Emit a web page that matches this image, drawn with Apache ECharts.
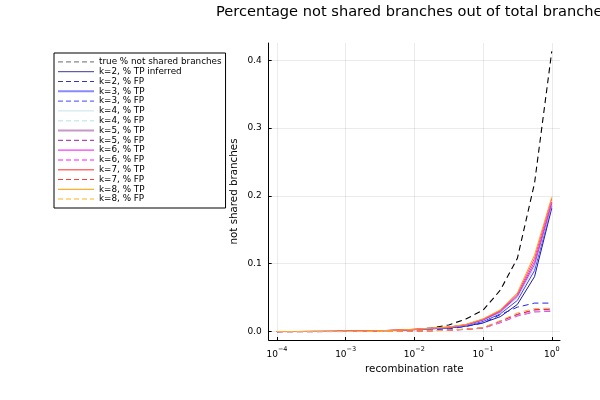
<!DOCTYPE html>
<html>
<head>
<meta charset="utf-8">
<script src="https://cdn.jsdelivr.net/npm/echarts@6/dist/echarts.min.js"></script>
<style>html,body{margin:0;padding:0;background:#fff}#c{width:600px;height:400px}</style>
</head>
<body>
<div id="c"></div>
<script>
const rates = [0.0001,0.000178,0.000316,0.000562,0.001,0.00178,0.00316,0.00562,0.01,0.0178,0.0316,0.0562,0.1,0.178,0.316,0.562,1.0];
const xTicks = [-4,-3,-2,-1,0];
const yTicks = [0,0.1,0.2,0.3,0.4];

const trueNS = [0.0000,0.0001,0.0001,0.0002,0.0003,0.0005,0.0009,0.0017,0.0030,0.0054,0.0098,0.0185,0.0315,0.0610,0.1080,0.2190,0.4130];

const tpK2 = [0.0001,0.0001,0.0002,0.0003,0.0004,0.0007,0.0011,0.0018,0.0028,0.0040,0.0052,0.0080,0.0128,0.0220,0.0400,0.0810,0.1820];
const fpK2 = [0.0000,0.0000,0.0001,0.0001,0.0002,0.0003,0.0005,0.0008,0.0013,0.0022,0.0040,0.0075,0.0125,0.0250,0.0360,0.0420,0.0420];
const tpK3 = [0.0001,0.0001,0.0002,0.0003,0.0005,0.0008,0.0012,0.0019,0.0030,0.0044,0.0058,0.0089,0.0150,0.0260,0.0460,0.0900,0.1850];
const fpK3 = [0.0000,0.0000,0.0000,0.0001,0.0001,0.0002,0.0003,0.0005,0.0008,0.0013,0.0022,0.0035,0.0055,0.0150,0.0250,0.0320,0.0330];
const tpK4 = [0.0001,0.0001,0.0002,0.0003,0.0005,0.0008,0.0012,0.0020,0.0031,0.0046,0.0061,0.0094,0.0164,0.0280,0.0500,0.0950,0.1870];
const fpK4 = [0.0000,0.0000,0.0000,0.0001,0.0001,0.0002,0.0003,0.0005,0.0008,0.0013,0.0021,0.0034,0.0052,0.0140,0.0240,0.0305,0.0315];
const tpK5 = [0.0001,0.0001,0.0002,0.0003,0.0005,0.0008,0.0013,0.0021,0.0032,0.0047,0.0063,0.0097,0.0170,0.0290,0.0520,0.0990,0.1890];
const fpK5 = [0.0000,0.0000,0.0000,0.0001,0.0001,0.0002,0.0003,0.0005,0.0008,0.0012,0.0020,0.0032,0.0050,0.0130,0.0230,0.0290,0.0300];
const tpK6 = [0.0001,0.0001,0.0002,0.0003,0.0005,0.0008,0.0013,0.0021,0.0033,0.0049,0.0065,0.0100,0.0176,0.0300,0.0535,0.1030,0.1910];
const fpK6 = [0.0000,0.0000,0.0000,0.0001,0.0001,0.0002,0.0003,0.0005,0.0008,0.0012,0.0020,0.0032,0.0050,0.0135,0.0235,0.0295,0.0305];
const tpK7 = [0.0001,0.0001,0.0002,0.0003,0.0005,0.0008,0.0013,0.0022,0.0034,0.0050,0.0066,0.0103,0.0182,0.0310,0.0552,0.1080,0.1960];
const fpK7 = [0.0000,0.0000,0.0000,0.0001,0.0001,0.0002,0.0003,0.0005,0.0008,0.0013,0.0022,0.0035,0.0055,0.0155,0.0255,0.0320,0.0335];
const tpK8 = [0.0001,0.0001,0.0002,0.0003,0.0005,0.0008,0.0013,0.0022,0.0035,0.0052,0.0068,0.0106,0.0188,0.0320,0.0570,0.1130,0.1980];
const fpK8 = [0.0000,0.0000,0.0000,0.0001,0.0001,0.0002,0.0003,0.0005,0.0008,0.0013,0.0022,0.0035,0.0058,0.0160,0.0275,0.0340,0.0345];

const seriesNames = ['true % not shared branches','k=2, % TP inferred','k=2, % FP','k=3, % TP','k=3, % FP','k=4, % TP','k=4, % FP','k=5, % TP','k=5, % FP','k=6, % TP','k=6, % FP','k=7, % TP','k=7, % FP','k=8, % TP','k=8, % FP'];
const seriesValues = [trueNS,tpK2,fpK2,tpK3,fpK3,tpK4,fpK4,tpK5,fpK5,tpK6,fpK6,tpK7,fpK7,tpK8,fpK8];
const plotColors = ['#000000','#1a1a9a','#2424e8','#3c3cff','#4a4aff','#b8dfe8','#c4e6ee','#a050b8','#a030a8','#ff20ff','#ff70ff','#ff5050','#ff2020','#ffa020','#ffb040'];
const legendColors = ['#888888','#3a3a9c','#3a3a9c','#8a8aff','#6a6aff','#c4e4e8','#cdeaee','#c896c8','#b048b0','#f040f0','#ff8cff','#ff7070','#ff3c3c','#ffb030','#ffd890'];
const legendWidths = [1.3,1,1,2,1.4,1,1.4,2,1.2,1.2,2,1.4,1.2,1.2,2];
const dashed = [true,false,true,false,true,false,true,false,true,false,true,false,true,false,true];

const chart = echarts.init(document.getElementById('c'), null, {renderer:'canvas'});
const FONT = 'DejaVu Sans';

const series = seriesNames.map((name, i) => ({
  name: name,
  type: 'line',
  symbol: 'none',
  animation: false,
  data: rates.map((r, j) => [Math.log10(r), seriesValues[i][j]]),
  lineStyle: {color: plotColors[i], width: i === 0 ? 1.1 : 1, type: dashed[i] ? [6, 4] : 'solid'},
  itemStyle: {color: plotColors[i]},
  z: 2 + i
}));

const legendData = seriesNames.map((name, i) => ({
  name: name,
  lineStyle: {color: legendColors[i], width: legendWidths[i], type: dashed[i] ? [5, 3] : 'solid'},
  itemStyle: {color: legendColors[i], opacity: 0}
}));

chart.setOption({
  backgroundColor: '#ffffff',
  animation: false,
  title: {
    text: 'Percentage not shared branches out of total branches',
    left: 211, top: 0,
    textStyle: {fontFamily: FONT, fontSize: 14.6, fontWeight: 'normal', color: '#000'}
  },
  legend: {
    orient: 'vertical',
    left: 54, top: 53,
    data: legendData,
    itemWidth: 36, itemHeight: 9.8, itemGap: 0,
    padding: [4, 4, 4, 3],
    borderColor: '#000', borderWidth: 1, backgroundColor: '#fff',
    textStyle: {fontFamily: FONT, fontSize: 8.8, color: '#000', lineHeight: 9.8},
    selectedMode: false
  },
  grid: {left: 268.7, right: 40, top: 43, bottom: 60, containLabel: false},
  xAxis: {
    type: 'value',
    min: -4.12, max: 0.12,
    name: 'recombination rate',
    nameLocation: 'middle', nameGap: 21,
    nameTextStyle: {fontFamily: FONT, fontSize: 10.3, color: '#000'},
    axisLine: {show: true, onZero: false, lineStyle: {color: '#000', width: 1}},
    axisTick: {show: true, inside: true, length: 3, customValues: xTicks, lineStyle: {color: '#000'}},
    axisLabel: {
      customValues: xTicks, margin: 6,
      formatter: v => '{b|10}{s|' + (v < 0 ? '\u2212' + (-v) : String(v)) + '}',
      rich: {
        b: {fontFamily: FONT, fontSize: 9, color: '#000', verticalAlign: 'bottom', lineHeight: 13},
        s: {fontFamily: FONT, fontSize: 6.5, color: '#000', verticalAlign: 'top', lineHeight: 7}
      }
    },
    splitLine: {show: true, lineStyle: {color: 'rgba(0,0,0,0.1)', width: 0.8}}
  },
  yAxis: {
    type: 'value',
    min: -0.0124, max: 0.4254,
    name: 'not shared branches',
    nameLocation: 'middle', nameGap: 29, nameRotate: 90,
    nameTextStyle: {fontFamily: FONT, fontSize: 10.3, color: '#000'},
    axisLine: {show: true, onZero: false, lineStyle: {color: '#000', width: 1}},
    axisTick: {show: true, inside: true, length: 3, customValues: yTicks, lineStyle: {color: '#000'}},
    axisLabel: {customValues: yTicks, margin: 7, formatter: v => v.toFixed(1), fontFamily: FONT, fontSize: 9, color: '#000'},
    splitLine: {show: true, lineStyle: {color: 'rgba(0,0,0,0.1)', width: 0.8}}
  },
  series: series
});
</script>
</body>
</html>
